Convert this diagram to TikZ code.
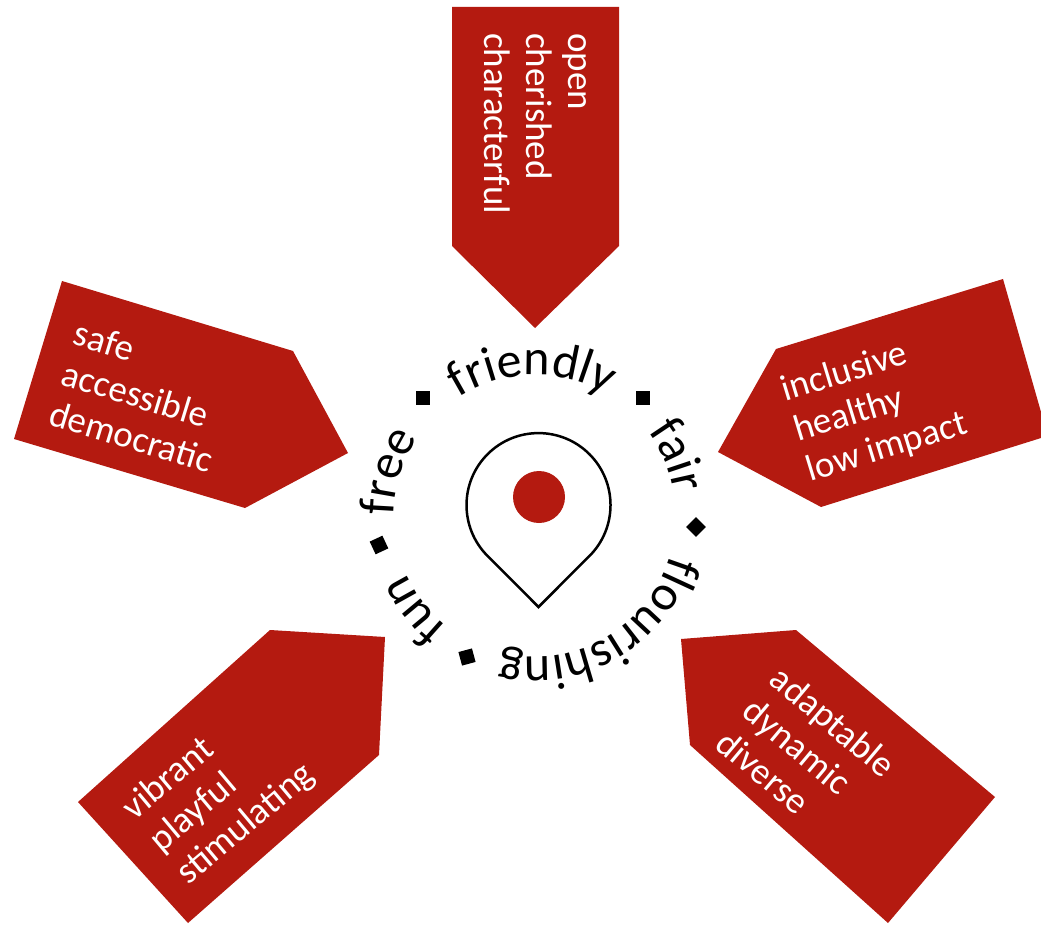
\documentclass[tikz,border=0pt]{standalone}
\usepackage{fontspec}
\setmainfont{Carlito}
\usetikzlibrary{decorations.text}
\newcommand{\ringfont}{\fontsize{50}{52}\selectfont}
\tikzset{
    armtext/.style={text=white, font=\fontsize{37}{42}\selectfont, align=left, anchor=west, inner sep=0pt},
    ringmark/.style={fill=black, minimum size=14pt, inner sep=0pt}
}
\begin{document}
\begin{tikzpicture}[x=1pt, y=1pt]

    % colour of the arms and the dot
    \definecolor{armred}{RGB}{180, 26, 16}

    \useasboundingbox (0, 0) rectangle (1041, -925);

    % five arms
    \fill[armred] (452, -7) -- (619, -7) -- (619, -246) -- (535, -328) -- (452, -246) -- cycle; % top
    \fill[armred] (62, -281) -- (293, -351) -- (348, -453) -- (245, -508) -- (14, -439) -- cycle; % left
    \fill[armred] (1003, -279) -- (1041, -412) -- (1041, -438) -- (821, -507) -- (718, -452) -- (776, -349) -- cycle; % right
    \fill[armred] (681, -639) -- (796, -630) -- (995, -797) -- (888, -923) -- (690, -745) -- cycle; % lower right
    \fill[armred] (270, -630) -- (385, -637) -- (379, -755) -- (188, -923) -- (78, -802) -- cycle; % lower left

    % texts on the arms
    \node[armtext, rotate=-90] (toptext) at (535, -33) {open\\cherished\\characterful};
    \node[armtext, rotate=-17] (lefttext) at (63, -372) {safe\\accessible\\democratic};
    \node[armtext, rotate=17] (righttext) at (795, -432) {inclusive\\healthy\\low impact};
    \node[armtext, rotate=-40] (lowrighttext) at (749, -705) {adaptable\\dynamic\\diverse};
    \node[armtext, rotate=40] (lowlefttext) at (155, -846) {vibrant\\playful\\stimulating};

    % words round the ring
    \foreach \word/\mid in {friendly/91, fair/23, flourishing/-60, fun/217.6, free/163} {
        \path[decorate, decoration={text along path, text align=center, text={|\ringfont|\word}}]
            (535, -516) ++(\mid+75:141pt) arc[start angle=\mid+75, end angle=\mid-75, radius=141pt];
    }

    % marks between the words
    \foreach \px/\py/\turn/\mname in {423/398/0/marka, 643/398/0/markb, 696/527/45/markc, 467/657/15/markd, 379/545/25/marke} {
        \node[ringmark, rotate=\turn] (\mname) at (\px, -\py) {};
    }

    % pin in the middle
    \draw[line width=2.5pt] (538.5, -607) -- (487.6, -556) arc[start angle=225, end angle=-45, radius=72pt] -- cycle;
    \fill[armred] (539, -497) circle[radius=26pt];

\end{tikzpicture}
\end{document}
